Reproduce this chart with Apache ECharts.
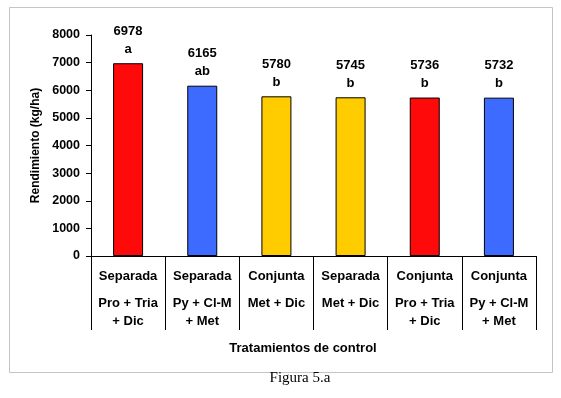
<!DOCTYPE html>
<html lang="es">
<head>
    <meta charset="UTF-8">
    <title>Figura 5.a</title>
    <style>
        html, body { margin: 0; padding: 0; background: #fff; }
        #main { width: 561px; height: 398px; }
    </style>
</head>
<body>
    <div id="main"></div>
    <script src="https://cdn.jsdelivr.net/npm/echarts@6/dist/echarts.min.js"></script>
    <script>
        // datos
        var tipos = ['Separada', 'Separada', 'Conjunta', 'Separada', 'Conjunta', 'Conjunta'];
        var mezclas = [['Pro + Tria', '+ Dic'], ['Py + Cl-M', '+ Met'], ['Met + Dic'], ['Met + Dic'], ['Pro + Tria', '+ Dic'], ['Py + Cl-M', '+ Met']];
        var rendimiento = [6978, 6165, 5780, 5745, 5736, 5732];
        var letras = ['a', 'ab', 'b', 'b', 'b', 'b'];
        var colores = ['#ff0a0a', '#3d6bff', '#ffcc00', '#ffcc00', '#ff0a0a', '#3d6bff'];

        var categorias = tipos.map(function (t, i) { return i; });

        var chart = echarts.init(document.getElementById('main'));
        var fuente = 'Liberation Sans, Arial, sans-serif';

        var option = {
            animation: false,
            backgroundColor: '#fff',
            title: [
                {
                    text: 'Tratamientos de control',
                    left: 298, top: 337, textAlign: 'center',
                    textStyle: { fontFamily: fuente, fontSize: 13, fontWeight: 'bold', color: '#000' }
                },
                {
                    text: 'Figura 5.a',
                    left: 295, top: 366, textAlign: 'center',
                    textStyle: { fontFamily: 'Liberation Serif, Times New Roman, serif', fontSize: 15, fontWeight: 'normal', color: '#000' }
                }
            ],
            graphic: [{
                type: 'rect',
                shape: { x: 9.5, y: 7.5, width: 543, height: 365 },
                style: { fill: 'none', stroke: '#c4c4c4', lineWidth: 1 },
                silent: true
            }],
            grid: { left: 91, right: 25, top: 35, bottom: 142 },
            xAxis: {
                type: 'category',
                data: categorias,
                axisLine: { lineStyle: { color: '#000', width: 1 } },
                axisTick: { show: true, length: 74, lineStyle: { color: '#000' } },
                axisLabel: {
                    margin: 2,
                    interval: 0,
                    formatter: function (v) {
                        var i = Number(v);
                        var s = '{a|' + tipos[i] + '}';
                        mezclas[i].forEach(function (m) { s += '\n{b|' + m + '}'; });
                        return s;
                    },
                    verticalAlign: 'top',
                    rich: {
                        a: { fontFamily: fuente, fontSize: 13, fontWeight: 'bold', color: '#000', lineHeight: 36 },
                        b: { fontFamily: fuente, fontSize: 13, fontWeight: 'bold', color: '#000', lineHeight: 18 }
                    }
                }
            },
            yAxis: {
                type: 'value',
                min: 0, max: 8000, interval: 1000,
                name: 'Rendimiento (kg/ha)',
                nameLocation: 'middle',
                nameGap: 43,
                nameTextStyle: { fontFamily: fuente, fontSize: 12, fontWeight: 'bold', color: '#000' },
                axisLine: { show: true, lineStyle: { color: '#000', width: 1 } },
                axisTick: { show: true, length: 5, lineStyle: { color: '#000' } },
                splitLine: { show: false },
                axisLabel: {
                    margin: 11, fontFamily: fuente, fontSize: 12.5, fontWeight: 'bold', color: '#000',
                    formatter: function (v) { return String(v); }
                }
            },
            series: [{
                type: 'bar',
                barWidth: 30,
                data: rendimiento.map(function (v, i) {
                    return { value: v, itemStyle: { color: colores[i] } };
                }),
                itemStyle: { borderColor: '#000', borderWidth: 1 },
                label: {
                    show: true,
                    position: 'top',
                    distance: 5,
                    lineHeight: 18,
                    fontFamily: fuente, fontSize: 13, fontWeight: 'bold', color: '#000',
                    formatter: function (p) { return p.value + '\n' + letras[p.dataIndex]; }
                }
            }]
        };
        chart.setOption(option);
    </script>
</body>
</html>
